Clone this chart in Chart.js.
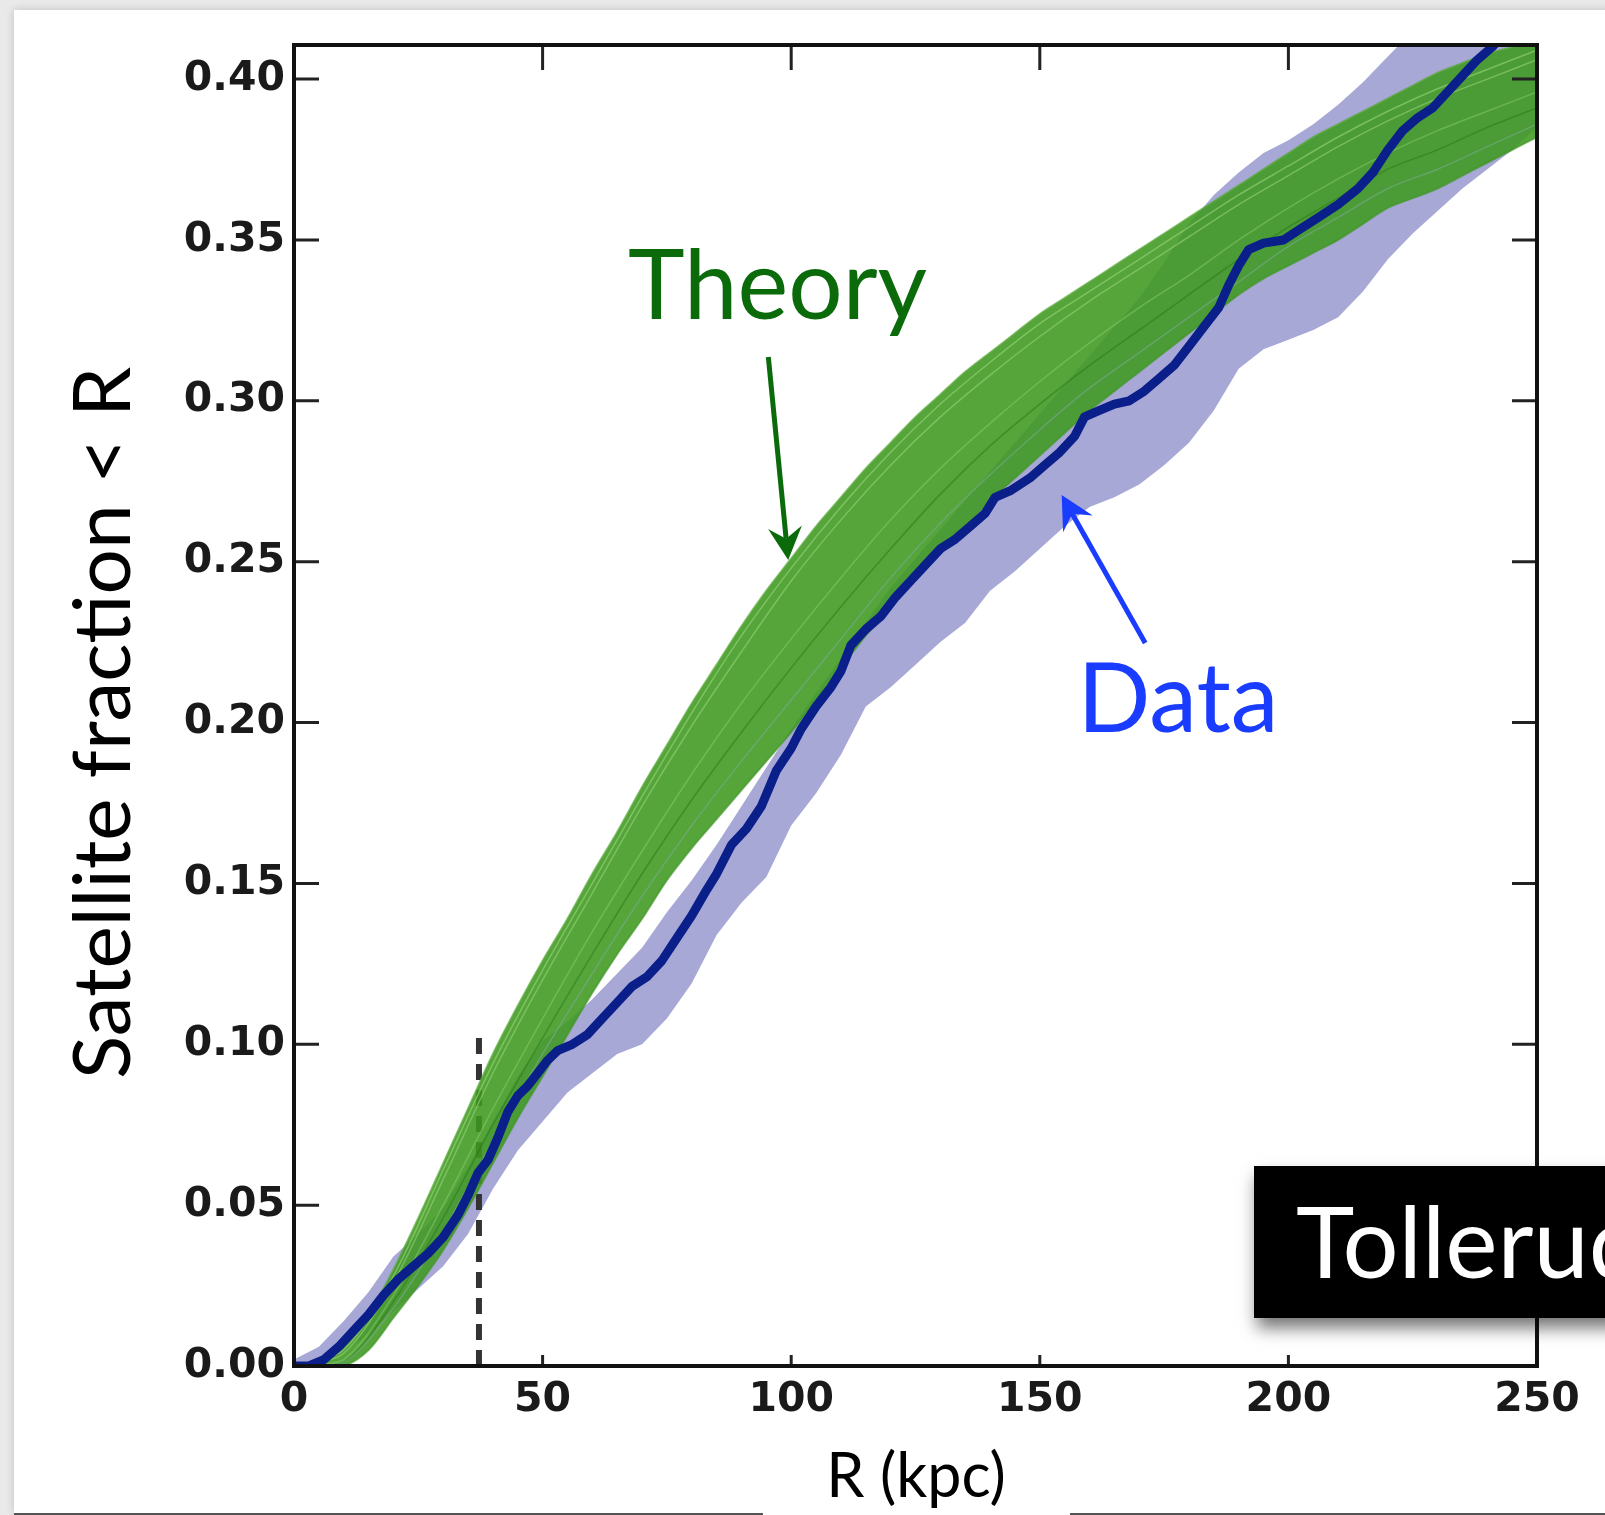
<!DOCTYPE html>
<html>
<head>
<meta charset="utf-8">
<script src="https://cdn.jsdelivr.net/npm/chart.js@4.4.0/dist/chart.umd.min.js"></script>
<style>
  html, body { margin: 0; padding: 0; background: #fff; }
  #wrap { position: relative; width: 1605px; height: 1515px; }
</style>
</head>
<body>
<div id="wrap"><canvas id="fracChart" width="1605" height="1515"></canvas></div>
<script>
// radius grid for the band edges (kpc)
const gridR = [0, 5, 10, 15, 20, 25, 30, 35, 40, 45, 50, 55, 60, 65, 70, 75, 80, 85, 90, 95, 100,
  105, 110, 115, 120, 125, 130, 135, 140, 145, 150, 155, 160, 165, 170, 175, 180, 185, 190, 195, 200,
  205, 210, 215, 220, 225, 230, 235, 240, 245, 250];

// observed fraction, lower / upper envelope
const dataLow = [0.000, 0.000, 0.004, 0.010, 0.017, 0.024, 0.031, 0.041, 0.055, 0.067, 0.076,
  0.085, 0.091, 0.097, 0.100, 0.108, 0.119, 0.134, 0.144, 0.152, 0.168,
  0.178, 0.190, 0.205, 0.211, 0.218, 0.225, 0.231, 0.241, 0.247, 0.254,
  0.261, 0.267, 0.270, 0.274, 0.280, 0.287, 0.297, 0.310, 0.316, 0.319,
  0.322, 0.326, 0.334, 0.344, 0.352, 0.359, 0.366, 0.372, 0.378, 0.385];
const dataHigh = [0.002, 0.006, 0.014, 0.023, 0.034, 0.041, 0.049, 0.062, 0.076, 0.090, 0.101,
  0.107, 0.114, 0.122, 0.130, 0.141, 0.151, 0.162, 0.174, 0.186, 0.198,
  0.209, 0.220, 0.231, 0.242, 0.251, 0.260, 0.269, 0.278, 0.287, 0.296,
  0.305, 0.314, 0.323, 0.332, 0.343, 0.355, 0.364, 0.371, 0.377, 0.381,
  0.386, 0.392, 0.399, 0.407, 0.415, 0.423, 0.430, 0.437, 0.444, 0.450];

// spread of the model realisations
const theoryLow = [0.000, 0.000, 0.000, 0.005, 0.015, 0.025, 0.036, 0.049, 0.063, 0.077, 0.090,
  0.103, 0.116, 0.128, 0.139, 0.151, 0.161, 0.170, 0.179, 0.188, 0.197,
  0.207, 0.217, 0.227, 0.236, 0.245, 0.253, 0.261, 0.269, 0.276, 0.283,
  0.290, 0.297, 0.303, 0.309, 0.315, 0.321, 0.327, 0.333, 0.338, 0.342,
  0.346, 0.350, 0.355, 0.360, 0.363, 0.366, 0.370, 0.374, 0.378, 0.382];
const theoryHigh = [0.000, 0.000, 0.006, 0.016, 0.030, 0.046, 0.063, 0.080, 0.097, 0.112, 0.126,
  0.139, 0.153, 0.166, 0.180, 0.193, 0.206, 0.218, 0.230, 0.241, 0.251,
  0.261, 0.270, 0.279, 0.287, 0.295, 0.302, 0.309, 0.315, 0.321, 0.327,
  0.332, 0.337, 0.342, 0.347, 0.352, 0.357, 0.362, 0.367, 0.372, 0.377,
  0.382, 0.386, 0.390, 0.394, 0.398, 0.402, 0.405, 0.408, 0.410, 0.413];

// a few individual model runs
const runR = [0, 10, 20, 30, 40, 50, 60, 70, 80, 90, 100, 110, 120, 130, 140, 150, 160,
  170, 180, 190, 200, 210, 220, 230, 240, 250];
const runA = [0, 0.004, 0.026, 0.058, 0.091, 0.120, 0.147, 0.174, 0.199, 0.222, 0.244, 0.263,
  0.280, 0.295, 0.308, 0.320, 0.331, 0.341, 0.351, 0.361, 0.370, 0.379, 0.387, 0.394, 0.400, 0.406];
const runB = [0, 0.002, 0.022, 0.050, 0.080, 0.108, 0.135, 0.160, 0.184, 0.206, 0.226, 0.245,
  0.263, 0.279, 0.293, 0.306, 0.318, 0.329, 0.339, 0.350, 0.360, 0.369, 0.377, 0.384, 0.390, 0.396];
const runC = [0, 0.001, 0.018, 0.042, 0.070, 0.097, 0.122, 0.146, 0.168, 0.188, 0.207, 0.226,
  0.245, 0.262, 0.277, 0.291, 0.304, 0.315, 0.326, 0.337, 0.348, 0.357, 0.366, 0.372, 0.379, 0.386];
const runD = [0, 0.005, 0.028, 0.061, 0.094, 0.123, 0.150, 0.177, 0.203, 0.227, 0.248, 0.267,
  0.284, 0.299, 0.312, 0.324, 0.334, 0.344, 0.354, 0.364, 0.373, 0.382, 0.390, 0.397, 0.403, 0.409];
const runE = [0, 0.001, 0.020, 0.046, 0.075, 0.102, 0.128, 0.153, 0.176, 0.197, 0.217, 0.236,
  0.254, 0.271, 0.286, 0.299, 0.311, 0.322, 0.333, 0.344, 0.354, 0.363, 0.372, 0.378, 0.385, 0.391];

// observed cumulative fraction
const dataR = [0, 3, 6, 9, 12, 15, 18, 21, 24, 27, 30, 33, 35, 37, 39, 41, 43, 45, 47, 49, 51, 53,
  56, 59, 62, 65, 68, 71, 74, 77, 80, 83, 85, 88, 91, 94, 97, 100, 102, 105, 108, 110, 112, 115,
  118, 121, 124, 127, 130, 133, 136, 139, 141, 144, 148, 151, 154, 157, 159, 162, 165, 168, 171,
  174, 177, 180, 183, 186, 188, 190, 192, 195, 199, 202, 206, 210, 214, 217, 220, 223, 226, 229,
  232, 235, 238, 241, 244, 247];
const dataFrac = [0.000, 0.000, 0.002, 0.006, 0.011, 0.016, 0.022, 0.027, 0.031, 0.035, 0.040,
  0.047, 0.053, 0.060, 0.064, 0.071, 0.079, 0.084, 0.087, 0.091, 0.095, 0.098, 0.100, 0.103,
  0.108, 0.113, 0.118, 0.121, 0.126, 0.133, 0.140, 0.148, 0.153, 0.162, 0.167, 0.174, 0.185,
  0.192, 0.198, 0.205, 0.211, 0.216, 0.224, 0.229, 0.233, 0.239, 0.244, 0.249, 0.254, 0.257,
  0.261, 0.265, 0.270, 0.272, 0.276, 0.280, 0.284, 0.289, 0.295, 0.297, 0.299, 0.300, 0.303,
  0.307, 0.311, 0.317, 0.323, 0.329, 0.336, 0.342, 0.347, 0.349, 0.350, 0.353, 0.357, 0.361,
  0.366, 0.371, 0.378, 0.384, 0.388, 0.391, 0.396, 0.401, 0.406, 0.410, 0.415, 0.420];

// vertical marker
const cutR = [37.2, 37.2];
const cutFrac = [0, 0.105];

const xTicks = [0, 50, 100, 150, 200, 250];
const xTickLabels = ['0', '50', '100', '150', '200', '250'];
const yTicks = [0, 0.05, 0.10, 0.15, 0.20, 0.25, 0.30, 0.35, 0.40];
const yTickLabels = ['0.00', '0.05', '0.10', '0.15', '0.20', '0.25', '0.30', '0.35', '0.40'];

const pts = (xs, ys) => xs.map((x, i) => ({ x: x, y: ys[i] }));

const LAVENDER = 'rgb(168,168,214)';
const GREEN = 'rgba(62,152,32,0.88)';
const NAVY = '#0b1f8a';
const THEORY_C = '#0b6b0b';
const DATA_C = '#1a3cff';
const LABEL_FONT = 'Lato, "Open Sans", sans-serif';

function drawArrow(ctx, x0, y0, x1, y1, color, width, headLen, headHalf) {
  const ang = Math.atan2(y1 - y0, x1 - x0);
  const c = Math.cos(ang), s = Math.sin(ang);
  const notch = headLen * 0.65;
  ctx.save();
  ctx.strokeStyle = color;
  ctx.fillStyle = color;
  ctx.lineWidth = width;
  ctx.beginPath();
  ctx.moveTo(x0, y0);
  ctx.lineTo(x1 - c * notch, y1 - s * notch);
  ctx.stroke();
  ctx.beginPath();
  ctx.moveTo(x1, y1);
  ctx.lineTo(x1 - c * headLen + s * headHalf, y1 - s * headLen - c * headHalf);
  ctx.lineTo(x1 - c * notch, y1 - s * notch);
  ctx.lineTo(x1 - c * headLen - s * headHalf, y1 - s * headLen + c * headHalf);
  ctx.closePath();
  ctx.fill();
  ctx.restore();
}

// slide background, frame and bottom rule
const pagePlugin = {
  id: 'page',
  beforeDraw(chart) {
    const ctx = chart.ctx;
    ctx.save();
    ctx.fillStyle = '#e9e9e9';
    ctx.fillRect(0, 0, chart.width, chart.height);
    ctx.shadowColor = 'rgba(0,0,0,0.18)';
    ctx.shadowBlur = 8;
    ctx.fillStyle = '#fff';
    ctx.fillRect(14, 10, chart.width, 1503);
    ctx.restore();
    ctx.save();
    ctx.strokeStyle = '#555';
    ctx.lineWidth = 2;
    ctx.beginPath();
    ctx.moveTo(14, 1514); ctx.lineTo(763, 1514);
    ctx.moveTo(1070, 1514); ctx.lineTo(chart.width, 1514);
    ctx.stroke();
    ctx.restore();
  }
};

// axes box with inward ticks, titles and callouts
const framePlugin = {
  id: 'frame',
  afterDatasetsDraw(chart) {
    const ctx = chart.ctx;
    const a = chart.chartArea;
    const xs = chart.scales.x, ys = chart.scales.y;
    ctx.save();
    ctx.strokeStyle = '#222';
    ctx.lineWidth = 3;
    ctx.beginPath();
    yTicks.forEach(v => {
      if (v === 0) return;
      const py = ys.getPixelForValue(v);
      ctx.moveTo(a.left, py); ctx.lineTo(a.left + 25, py);
      ctx.moveTo(a.right, py); ctx.lineTo(a.right - 25, py);
    });
    xTicks.forEach(v => {
      if (v === 0 || v === 250) return;
      const px = xs.getPixelForValue(v);
      ctx.moveTo(px, a.top); ctx.lineTo(px, a.top + 25);
      ctx.moveTo(px, a.bottom); ctx.lineTo(px, a.bottom - 11);
    });
    ctx.stroke();
    ctx.strokeStyle = '#111';
    ctx.lineWidth = 4;
    ctx.strokeRect(a.left, a.top, a.right - a.left, a.bottom - a.top);
    ctx.restore();
  },
  afterDraw(chart) {
    const ctx = chart.ctx;
    const xs = chart.scales.x, ys = chart.scales.y;
    const X = v => xs.getPixelForValue(v), Y = v => ys.getPixelForValue(v);

    ctx.save();
    ctx.fillStyle = '#000';
    ctx.font = '80px ' + LABEL_FONT;
    ctx.textAlign = 'center';
    ctx.textBaseline = 'alphabetic';
    ctx.translate(130, 723);
    ctx.rotate(-Math.PI / 2);
    ctx.fillText('Satellite fraction < R', 0, 0);
    ctx.restore();

    ctx.save();
    ctx.fillStyle = '#fff';
    ctx.fillRect(763, 1505, 307, 10);
    ctx.fillStyle = '#000';
    ctx.font = '61px ' + LABEL_FONT;
    ctx.textAlign = 'center';
    ctx.fillText('R (kpc)', 916, 1497);
    ctx.restore();

    // callouts
    ctx.save();
    ctx.font = '96px ' + LABEL_FONT;
    ctx.textBaseline = 'alphabetic';
    ctx.fillStyle = THEORY_C;
    ctx.fillText('Theory', X(67.2), Y(0.3253));
    ctx.fillStyle = DATA_C;
    ctx.fillText('Data', X(157.6), Y(0.1971));
    ctx.restore();
    drawArrow(ctx, X(95.4), Y(0.3136), X(99.4), Y(0.2505), THEORY_C, 5, 33, 17);
    drawArrow(ctx, X(171.2), Y(0.2247), X(154.4), Y(0.2707), DATA_C, 5, 33, 17);

    // reference tag
    ctx.save();
    ctx.shadowColor = 'rgba(0,0,0,0.55)';
    ctx.shadowBlur = 16;
    ctx.shadowOffsetX = 3;
    ctx.shadowOffsetY = 10;
    ctx.fillStyle = '#000';
    ctx.fillRect(1254, 1166, 400, 152);
    ctx.restore();
    ctx.save();
    ctx.fillStyle = '#fff';
    ctx.font = '99px ' + LABEL_FONT;
    ctx.fillText('Tollerud et al.', 1296, 1278);
    ctx.restore();
  }
};

const tickFont = { family: '"DejaVu Sans", sans-serif', size: 41, weight: 'bold' };
const run = (ys, color) => ({ data: pts(runR, ys), borderColor: color, borderWidth: 1.5,
  pointRadius: 0, tension: 0.3, order: 5 });

const ctx = document.getElementById('fracChart');
new Chart(ctx, {
  type: 'line',
  data: {
    datasets: [
      { data: pts(gridR, dataLow), borderColor: 'transparent', borderWidth: 0, pointRadius: 0, order: 10 },
      { data: pts(gridR, dataHigh), borderColor: 'transparent', borderWidth: 0, pointRadius: 0,
        fill: '-1', backgroundColor: LAVENDER, order: 9 },
      { data: pts(cutR, cutFrac), borderColor: '#333', borderWidth: 6, borderDash: [16, 10],
        pointRadius: 0, order: 8 },
      { data: pts(gridR, theoryLow), borderColor: 'rgba(70,150,45,0.7)', borderWidth: 2,
        pointRadius: 0, tension: 0.3, order: 7 },
      { data: pts(gridR, theoryHigh), borderColor: 'rgba(90,170,60,0.7)', borderWidth: 2,
        pointRadius: 0, tension: 0.3, fill: '-1', backgroundColor: GREEN, order: 6 },
      run(runA, 'rgba(150,210,120,0.6)'),
      run(runB, 'rgba(140,205,110,0.5)'),
      run(runC, 'rgba(120,170,140,0.6)'),
      run(runD, 'rgba(160,220,130,0.55)'),
      run(runE, 'rgba(40,120,20,0.5)'),
      { data: pts(dataR, dataFrac), borderColor: NAVY, borderWidth: 9, borderJoinStyle: 'round',
        pointRadius: 0, order: 1 }
    ]
  },
  options: {
    responsive: false,
    animation: false,
    layout: { padding: { left: 0, top: 45, right: 68, bottom: 0 } },
    plugins: { legend: { display: false }, tooltip: { enabled: false } },
    scales: {
      x: {
        type: 'linear', min: 0, max: 250,
        afterBuildTicks: s => { s.ticks = xTicks.map(v => ({ value: v })); },
        afterFit: s => { s.height = 149; },
        grid: { display: false, drawTicks: false },
        border: { display: false },
        ticks: { font: tickFont, color: '#1a1a1a', padding: 10, maxRotation: 0, autoSkip: false,
          callback: (v, i) => xTickLabels[i] }
      },
      y: {
        type: 'linear', min: 0, max: 0.4106,
        afterBuildTicks: s => { s.ticks = yTicks.map(v => ({ value: v })); },
        afterFit: s => { s.width = 294; },
        grid: { display: false, drawTicks: false },
        border: { display: false },
        ticks: { font: tickFont, color: '#1a1a1a', padding: 9, autoSkip: false,
          callback: (v, i) => yTickLabels[i] }
      }
    }
  },
  plugins: [pagePlugin, framePlugin]
});
</script>
</body>
</html>
